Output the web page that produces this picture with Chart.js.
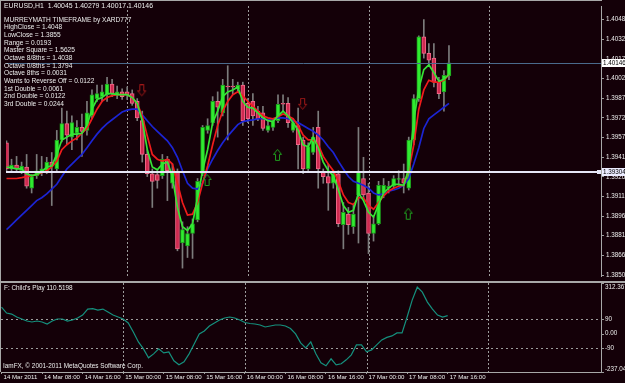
<!DOCTYPE html>
<html>
<head>
<meta charset="utf-8">
<title>EURUSD,H1</title>
<script src="https://cdn.jsdelivr.net/npm/chart.js@4.4.1/dist/chart.umd.min.js"></script>
<style>
  html, body { margin: 0; padding: 0; background: #140008; overflow: hidden; }
  #wrap { position: relative; width: 625px; height: 383px; }
  canvas { position: absolute; left: 0; display: block; }
  #priceChart { top: 0; }
  #cpChart { top: 282px; }
</style>
</head>
<body>
<div id="wrap">
  <canvas id="priceChart" width="625" height="282"></canvas>
  <canvas id="cpChart" width="625" height="101"></canvas>
</div>
<script>
// bar 0 = 14 Mar 2011 00:00, one bar per hour (H1)
const timeLabels = ['14 Mar 2011', '14 Mar 08:00', '14 Mar 16:00', '15 Mar 00:00', '15 Mar 08:00', '15 Mar 16:00',
  '16 Mar 00:00', '16 Mar 08:00', '16 Mar 16:00', '17 Mar 00:00', '17 Mar 08:00', '17 Mar 16:00'];
const timeTickBars = [0, 8, 16, 24, 32, 40, 48, 56, 64, 72, 80, 88];
const dayStartBars = [24, 48, 72, 96];

const opens = [1.39528,1.39326,1.39356,1.39312,1.39341,1.39177,1.39274,1.39297,1.39312,1.39379,
  1.39326,1.39550,1.39677,1.39572,1.39602,1.39647,1.39624,1.39736,1.39870,1.39885,
  1.39900,1.39982,1.39900,1.39922,1.39922,1.39908,1.39848,1.39699,1.39438,1.39289,
  1.39282,1.39274,1.39401,1.39215,1.39304,1.38753,1.38730,1.38827,1.38932,1.39289,
  1.39624,1.39684,1.39848,1.39759,1.39967,1.39967,1.39945,1.39975,1.39833,1.39848,
  1.39773,1.39759,1.39624,1.39647,1.39699,1.39833,1.39833,1.39624,1.39662,1.39550,
  1.39326,1.39453,1.39647,1.39304,1.39267,1.39215,1.39289,1.38894,1.38976,1.38879,
  1.39125,1.39252,1.39140,1.38827,1.38902,1.39125,1.39177,1.39192,1.39245,1.39252,
  1.39177,1.39550,1.39870,1.40347,1.40220,1.40183,1.39997,1.39922,1.40045];
const highs = [1.39543,1.39401,1.39423,1.39379,1.39438,1.39282,1.39438,1.39423,1.39416,1.39453,
  1.39624,1.39796,1.39773,1.39736,1.39699,1.39751,1.39848,1.39937,1.39975,1.39975,
  1.40034,1.40019,1.39967,1.39945,1.39960,1.39937,1.39870,1.39773,1.39475,1.39326,
  1.39312,1.39438,1.39423,1.39364,1.39326,1.38917,1.38879,1.38939,1.39252,1.39662,
  1.39714,1.39885,1.39922,1.40019,1.40124,1.40019,1.39997,1.39997,1.39870,1.39908,
  1.39811,1.39811,1.39699,1.39714,1.39900,1.39900,1.39878,1.39714,1.39796,1.39572,
  1.39528,1.39647,1.39773,1.39326,1.39364,1.39312,1.39312,1.39066,1.39028,1.39051,
  1.39647,1.39416,1.39215,1.38954,1.39230,1.39252,1.39230,1.39274,1.39312,1.39364,
  1.39572,1.39900,1.40355,1.40481,1.40295,1.40295,1.40034,1.40086,1.40279];
const lows = [1.39312,1.39312,1.39312,1.39289,1.39177,1.39140,1.39252,1.39274,1.39289,1.39043,
  1.39312,1.39535,1.39513,1.39475,1.39550,1.39423,1.39587,1.39714,1.39848,1.39848,
  1.39848,1.39885,1.39870,1.39863,1.39863,1.39818,1.39699,1.39379,1.39267,1.39028,
  1.39177,1.39252,1.39081,1.39177,1.38693,1.38559,1.38641,1.38634,1.38917,1.39274,
  1.39602,1.39662,1.39572,1.39736,1.39550,1.39900,1.39922,1.39662,1.39684,1.39662,
  1.39699,1.39624,1.39610,1.39624,1.39684,1.39773,1.39647,1.39610,1.39326,1.39289,
  1.39312,1.39438,1.39177,1.39215,1.39006,1.39177,1.38879,1.38708,1.38820,1.38827,
  1.38753,1.39103,1.38671,1.38768,1.38894,1.39103,1.39140,1.39177,1.39200,1.39140,
  1.39163,1.39513,1.39848,1.40183,1.40131,1.39960,1.39870,1.39773,1.40017];
const closes = [1.39326,1.39356,1.39326,1.39349,1.39192,1.39267,1.39312,1.39326,1.39379,1.39349,
  1.39550,1.39677,1.39587,1.39684,1.39647,1.39617,1.39759,1.39900,1.39908,1.39922,
  1.39982,1.39908,1.39922,1.39885,1.39900,1.39833,1.39721,1.39438,1.39289,1.39230,
  1.39237,1.39401,1.39312,1.39312,1.38708,1.38857,1.38827,1.38902,1.39230,1.39647,
  1.39662,1.39848,1.39803,1.39975,1.39960,1.39960,1.39975,1.39699,1.39714,1.39736,
  1.39714,1.39639,1.39662,1.39699,1.39826,1.39826,1.39684,1.39684,1.39513,1.39326,
  1.39498,1.39572,1.39326,1.39267,1.39215,1.39289,1.38902,1.38991,1.38894,1.38976,
  1.39304,1.39125,1.38827,1.38902,1.39200,1.39200,1.39192,1.39252,1.39252,1.39215,
  1.39550,1.39870,1.40347,1.40220,1.40168,1.39997,1.39908,1.40049,1.40146];

// moving averages (green fast, red medium, blue slow)
const maFast = [1.39341,1.39334,1.39326,1.39326,1.39289,1.39274,1.39282,1.39304,1.39341,1.39349,
  1.39438,1.39550,1.39572,1.39595,1.39595,1.39602,1.39662,1.39788,1.39863,1.39878,
  1.39908,1.39908,1.39900,1.39900,1.39900,1.39878,1.39833,1.39699,1.39475,1.39341,
  1.39319,1.39364,1.39379,1.39267,1.39028,1.38879,1.38850,1.38902,1.39103,1.39312,
  1.39475,1.39684,1.39773,1.39885,1.39922,1.39937,1.39960,1.39848,1.39803,1.39796,
  1.39759,1.39721,1.39699,1.39692,1.39736,1.39773,1.39736,1.39684,1.39624,1.39513,
  1.39498,1.39572,1.39490,1.39379,1.39312,1.39274,1.39163,1.39043,1.38991,1.39006,
  1.39140,1.39081,1.38991,1.38954,1.39051,1.39140,1.39177,1.39207,1.39207,1.39200,
  1.39326,1.39699,1.39945,1.40094,1.40131,1.40072,1.40004,1.40019,1.40057];
const maMid = [1.39252,1.39252,1.39252,1.39259,1.39267,1.39274,1.39282,1.39297,1.39312,1.39341,
  1.39386,1.39475,1.39513,1.39543,1.39565,1.39602,1.39639,1.39714,1.39788,1.39848,
  1.39878,1.39893,1.39900,1.39900,1.39900,1.39878,1.39833,1.39736,1.39580,1.39438,
  1.39401,1.39386,1.39401,1.39364,1.39215,1.39066,1.38969,1.38976,1.39066,1.39215,
  1.39349,1.39513,1.39662,1.39773,1.39848,1.39900,1.39922,1.39893,1.39848,1.39811,
  1.39773,1.39736,1.39721,1.39714,1.39729,1.39751,1.39736,1.39714,1.39662,1.39587,
  1.39550,1.39550,1.39513,1.39423,1.39364,1.39312,1.39230,1.39125,1.39066,1.39051,
  1.39103,1.39103,1.39043,1.39014,1.39066,1.39118,1.39155,1.39177,1.39192,1.39200,
  1.39312,1.39513,1.39788,1.39937,1.40012,1.39997,1.39997,1.40012,1.40057];
const maSlow = [1.38857,1.38894,1.38932,1.38969,1.39006,1.39043,1.39081,1.39103,1.39133,1.39170,
  1.39207,1.39267,1.39326,1.39364,1.39401,1.39438,1.39490,1.39543,1.39595,1.39639,
  1.39677,1.39706,1.39736,1.39766,1.39781,1.39788,1.39788,1.39744,1.39699,1.39654,
  1.39617,1.39580,1.39543,1.39490,1.39416,1.39312,1.39215,1.39177,1.39170,1.39215,
  1.39326,1.39401,1.39468,1.39528,1.39580,1.39624,1.39669,1.39692,1.39699,1.39706,
  1.39714,1.39714,1.39706,1.39714,1.39721,1.39721,1.39714,1.39699,1.39684,1.39662,
  1.39639,1.39617,1.39587,1.39550,1.39498,1.39453,1.39386,1.39326,1.39267,1.39230,
  1.39215,1.39200,1.39177,1.39140,1.39125,1.39133,1.39155,1.39163,1.39177,1.39200,
  1.39252,1.39364,1.39490,1.39639,1.39714,1.39744,1.39773,1.39803,1.39833];

// "Child's Play" oscillator in the lower window
const childsPlay = [163.7,126.9,120.7,102.3,90.0,77.7,71.6,77.7,71.6,59.3,
  77.7,90.0,90.0,77.7,83.9,96.1,114.6,151.4,154.5,145.3,
  151.4,133.0,114.6,102.3,90.0,65.4,10.1,-51.3,-94.3,-149.6,
  -125.0,-94.3,-118.9,-112.7,-168.0,-192.6,-174.3,-125.0,-63.6,-2.1,
  16.3,47.0,65.4,83.9,96.1,102.3,96.1,83.9,68.5,62.4,
  59.3,53.1,40.9,47.0,53.1,53.1,47.0,31.6,-2.1,-57.4,
  -88.1,-51.3,-125.0,-180.3,-198.7,-155.7,-192.6,-186.4,-161.9,-131.1,
  -69.7,-69.7,-112.7,-100.4,-69.7,-39.0,-23.6,-14.4,4.0,4.0,
  102.3,206.7,286.6,255.9,194.4,151.4,114.6,102.3,110.5198];

const priceTicks = [1.40480, 1.40325, 1.40175, 1.40025, 1.39870, 1.39720, 1.39570,
  1.39415, 1.39265, 1.39115, 1.38960, 1.38810, 1.38660, 1.38505];
const priceRange = [1.38498, 1.40586];
const barRange = [-0.1, 118.24];
const cpRange = [-237.0402, 312.3671];
const cpLevels = [90, -90];
const cpAxisLabels = [[312.3671, '312.3671'], [90, '90'], [0, '0.00'], [-90, '-90'], [-237.0402, '-237.0402']];

const downArrowBars = [27, 59];
const downArrowPrices = [1.39930, 1.39826];
const upArrowBars = [40, 54, 80];
const upArrowPrices = [1.39237, 1.39431, 1.38976];

const bidPrice = 1.40146;
const pivotPrice = 1.39304;

const headerLine = 'EURUSD,H1  1.40045 1.40279 1.40017 1.40146';
const murreyLines = ['MURREYMATH TIMEFRAME by XARD777', 'HighClose = 1.4048', 'LowClose = 1.3855',
  'Range = 0.0193', 'Master Square = 1.5625', 'Octave 8/8ths = 1.4038', 'Octave 0/8ths = 1.3794',
  'Octave 8ths = 0.0031', 'Wants to Reverse Off = 0.0122', '1st Double = 0.0061',
  '2nd Double = 0.0122', '3rd Double = 0.0244'];

const BG = '#140008';
const FRAME = '#a8a8a8';
const GRID = '#9c9c9c';
const TEXT = '#ececec';
const FONT = '"Liberation Sans", Arial, sans-serif';
const bull = { fill: '#30ec30', edge: '#1c9c1c' };
const bear = { fill: '#d02a50', edge: '#f06888' };

function makeArrow(color, down) {
  const c = document.createElement('canvas');
  c.width = 10; c.height = 13;
  const g = c.getContext('2d');
  g.strokeStyle = color;
  g.lineWidth = 1;
  const pts = down
    ? [[2.5, 0.5], [6.5, 0.5], [6.5, 6.5], [8.5, 6.5], [4.5, 11.5], [0.5, 6.5], [2.5, 6.5]]
    : [[2.5, 11.5], [6.5, 11.5], [6.5, 5.5], [8.5, 5.5], [4.5, 0.5], [0.5, 5.5], [2.5, 5.5]];
  g.beginPath();
  pts.forEach((p, k) => k ? g.lineTo(p[0], p[1]) : g.moveTo(p[0], p[1]));
  g.closePath();
  g.stroke();
  return c;
}

function fillBg(chart) {
  const { ctx, width, height } = chart;
  ctx.save();
  ctx.fillStyle = BG;
  ctx.fillRect(0, 0, width, height);
  ctx.restore();
}

function daySeparators(chart) {
  const { ctx, chartArea: a, scales: { x } } = chart;
  ctx.save();
  ctx.strokeStyle = GRID;
  ctx.lineWidth = 1;
  ctx.setLineDash([2, 2]);
  dayStartBars.forEach(b => {
    const px = Math.round(x.getPixelForValue(b)) + 0.5;
    ctx.beginPath();
    ctx.moveTo(px, a.top);
    ctx.lineTo(px, a.bottom);
    ctx.stroke();
  });
  ctx.restore();
}

function axisBox(ctx, y, text, fill) {
  ctx.fillStyle = fill;
  ctx.fillRect(602, Math.round(y) - 4, 23, 8);
  ctx.fillStyle = '#000000';
  ctx.textAlign = 'left';
  ctx.textBaseline = 'middle';
  ctx.fillText(text, 603, Math.round(y) + 0.5);
}

const mainDecor = {
  id: 'mainDecor',
  beforeDraw: fillBg,
  beforeDatasetsDraw: daySeparators,
  afterDraw(chart) {
    const { ctx, chartArea: a, scales: { y } } = chart;
    ctx.save();
    // frame
    ctx.fillStyle = FRAME;
    ctx.fillRect(0, 0, a.right + 1, 1);
    ctx.fillRect(0, 0, 1, chart.height);
    ctx.fillRect(0, chart.height - 1, chart.width, 1);

    // bid line and the white level line
    const yb = Math.round(y.getPixelForValue(bidPrice)) + 0.5;
    ctx.strokeStyle = '#4a6a8c';
    ctx.lineWidth = 1;
    ctx.beginPath(); ctx.moveTo(a.left, yb); ctx.lineTo(a.right, yb); ctx.stroke();

    const yp = Math.round(y.getPixelForValue(pivotPrice));
    ctx.strokeStyle = '#e6e6f6';
    ctx.lineWidth = 2;
    ctx.beginPath(); ctx.moveTo(a.left, yp); ctx.lineTo(a.right, yp); ctx.stroke();
    ctx.fillStyle = '#e6e6f6';
    ctx.fillRect(a.right - 4, yp - 2, 4, 4);

    ctx.font = '6.3px ' + FONT;
    axisBox(ctx, y.getPixelForValue(bidPrice), bidPrice.toFixed(5), '#ffffff');
    axisBox(ctx, y.getPixelForValue(pivotPrice), pivotPrice.toFixed(5), '#ececff');

    // info text
    ctx.fillStyle = TEXT;
    ctx.textAlign = 'left';
    ctx.textBaseline = 'middle';
    ctx.font = '6.9px ' + FONT;
    ctx.fillText(headerLine, 4, 6);
    ctx.font = '6.6px ' + FONT;
    ctx.fillText(murreyLines[0], 4, 20.5);
    for (let k = 1; k < murreyLines.length; k++) {
      ctx.fillText(murreyLines[k], 4, 27.4 + (k - 1) * 7.67);
    }
    ctx.restore();
  }
};

const cpDecor = {
  id: 'cpDecor',
  beforeDraw: fillBg,
  beforeDatasetsDraw(chart) {
    daySeparators(chart);
    const { ctx, chartArea: a, scales: { y } } = chart;
    ctx.save();
    ctx.strokeStyle = GRID;
    ctx.lineWidth = 1;
    ctx.setLineDash([2, 3]);
    cpLevels.forEach(v => {
      const py = Math.round(y.getPixelForValue(v)) + 0.5;
      ctx.beginPath(); ctx.moveTo(a.left, py); ctx.lineTo(a.right, py); ctx.stroke();
    });
    ctx.restore();
  },
  afterDraw(chart) {
    const { ctx, chartArea: a, scales: { y } } = chart;
    ctx.save();
    ctx.fillStyle = FRAME;
    ctx.fillRect(0, 0, chart.width, 1);
    ctx.fillRect(0, 0, 1, a.bottom);

    ctx.font = '6.3px ' + FONT;
    ctx.textAlign = 'left';
    ctx.textBaseline = 'middle';
    cpAxisLabels.forEach(([v, txt]) => {
      let py = y.getPixelForValue(v);
      ctx.fillStyle = GRID;
      ctx.fillRect(a.right, Math.round(py), 3, 1);
      if (v === cpRange[1]) py = a.top + 4;
      if (v === cpRange[0]) py = a.bottom - 3;
      ctx.fillStyle = TEXT;
      ctx.fillText(txt, a.right + 4, py);
    });

    ctx.fillStyle = TEXT;
    ctx.font = '6.4px ' + FONT;
    ctx.fillText("F: Child's Play " + childsPlay[childsPlay.length - 1].toFixed(4), 4, 6.5);
    ctx.fillText('IamFX, \u00a9 2001-2011 MetaQuotes Software Corp.', 3, 84.7);
    ctx.restore();
  }
};

const idx = opens.map((o, i) => i);
const toXY = arr => arr.map((v, i) => ({ x: i, y: v }));

new Chart(document.getElementById('priceChart'), {
  type: 'bar',
  data: {
    datasets: [
      {
        type: 'line', showLine: false,
        data: downArrowBars.map((b, k) => ({ x: b, y: downArrowPrices[k] })),
        pointStyle: makeArrow('#a01818', true), pointRadius: 5
      },
      {
        type: 'line', showLine: false,
        data: upArrowBars.map((b, k) => ({ x: b, y: upArrowPrices[k] })),
        pointStyle: makeArrow('#1fa01f', false), pointRadius: 5
      },
      { type: 'line', data: toXY(maFast), borderColor: '#36e436', borderWidth: 1.7, pointRadius: 0 },
      { type: 'line', data: toXY(maMid), borderColor: '#f01c1c', borderWidth: 1.7, pointRadius: 0 },
      { type: 'line', data: toXY(maSlow), borderColor: '#1c24d4', borderWidth: 1.7, pointRadius: 0 },
      {
        data: idx.map(i => ({ x: i, y: [opens[i], closes[i]] })),
        backgroundColor: c => closes[c.dataIndex] >= opens[c.dataIndex] ? bull.fill : bear.fill,
        borderColor: c => closes[c.dataIndex] >= opens[c.dataIndex] ? bull.edge : bear.edge,
        borderWidth: 1, borderSkipped: false, barThickness: 4, grouped: false
      },
      {
        data: idx.map(i => ({ x: i, y: [lows[i], highs[i]] })),
        backgroundColor: '#7c7c7c', borderWidth: 0, barThickness: 1, grouped: false
      }
    ]
  },
  options: {
    responsive: false,
    animation: false,
    devicePixelRatio: 1,
    events: [],
    layout: { padding: { left: 1, top: 1, right: 0, bottom: 1 } },
    plugins: { legend: { display: false }, tooltip: { enabled: false } },
    scales: {
      x: { type: 'linear', min: barRange[0], max: barRange[1], offset: false, display: false },
      y: {
        position: 'right',
        min: priceRange[0], max: priceRange[1],
        afterBuildTicks: s => { s.ticks = priceTicks.map(v => ({ value: v })); },
        afterFit: s => { s.width = 24; s.paddingTop = 0; s.paddingBottom = 0; },
        ticks: {
          autoSkip: false, padding: 2, color: TEXT,
          font: { family: FONT, size: 6.3 },
          callback: v => Number(v).toFixed(5)
        },
        grid: { drawOnChartArea: false, tickLength: 3, color: GRID },
        border: { color: FRAME }
      }
    }
  },
  plugins: [mainDecor]
});

new Chart(document.getElementById('cpChart'), {
  type: 'line',
  data: {
    datasets: [{ data: toXY(childsPlay), borderColor: '#15907e', borderWidth: 1.2, pointRadius: 0 }]
  },
  options: {
    responsive: false,
    animation: false,
    devicePixelRatio: 1,
    events: [],
    layout: { padding: { left: 1, top: 1, right: 0, bottom: 0 } },
    plugins: { legend: { display: false }, tooltip: { enabled: false } },
    scales: {
      x: {
        type: 'linear', min: barRange[0], max: barRange[1], offset: false,
        afterBuildTicks: s => { s.ticks = timeTickBars.map(v => ({ value: v })); },
        afterFit: s => { s.height = 11; s.paddingLeft = 0; s.paddingRight = 0; },
        ticks: {
          autoSkip: false, maxRotation: 0, align: 'start', labelOffset: 2, padding: 0,
          color: TEXT, font: { family: FONT, size: 6.1 },
          callback: (v, i) => timeLabels[i]
        },
        grid: { drawOnChartArea: false, tickLength: 2, color: GRID },
        border: { color: FRAME }
      },
      y: {
        position: 'right', min: cpRange[0], max: cpRange[1],
        afterFit: s => { s.width = 24; s.paddingTop = 0; s.paddingBottom = 0; },
        ticks: { display: false },
        grid: { drawOnChartArea: false, drawTicks: false },
        border: { color: FRAME }
      }
    }
  },
  plugins: [cpDecor]
});
</script>
</body>
</html>
